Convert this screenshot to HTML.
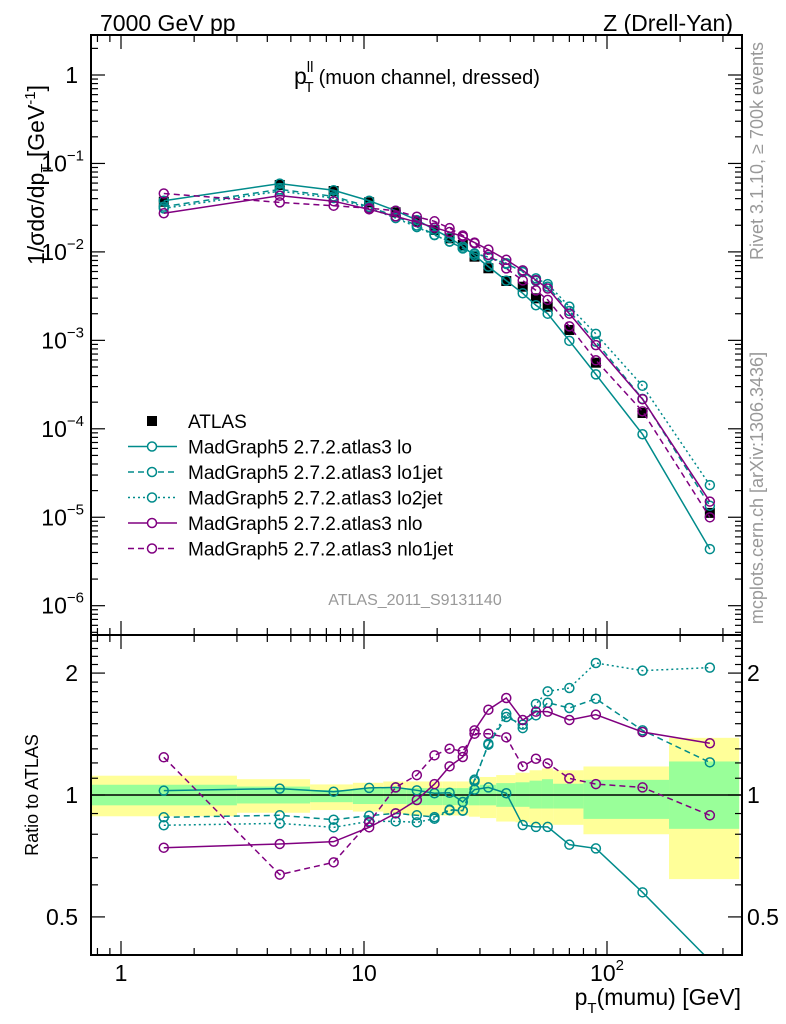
<!DOCTYPE html>
<html><head><meta charset="utf-8">
<style>
html,body{margin:0;padding:0;background:#fff;}
svg{display:block;font-family:"Liberation Sans",sans-serif;}
</style></head>
<body>
<svg id="chart" width="786" height="1024" viewBox="0 0 786 1024">
<defs>
<clipPath id="clipMain"><rect x="91" y="35" width="651" height="600"/></clipPath>
<clipPath id="clipRatio"><rect x="91" y="635" width="651" height="320"/></clipPath>
</defs>
<g id="bands" clip-path="url(#clipRatio)"></g>
<g id="ratioLines" clip-path="url(#clipRatio)"></g>
<g id="mainLines" clip-path="url(#clipMain)"></g>
<g id="axes"></g>
<text x="100" y="31" font-size="23">7000 GeV pp</text>
<text x="733" y="31" font-size="23" text-anchor="end">Z (Drell-Yan)</text>
<text x="294" y="84" font-size="23">p<tspan font-size="15" dy="-12">ll</tspan><tspan font-size="15" dx="-9" dy="20">T</tspan><tspan font-size="20" dy="-8" dx="5">(muon channel, dressed)</tspan></text>
<text x="415" y="605" font-size="16" fill="#999" text-anchor="middle">ATLAS_2011_S9131140</text>
<text transform="translate(763,151) rotate(-90)" font-size="18" fill="#999" text-anchor="middle">Rivet 3.1.10, ≥ 700k events</text>
<text transform="translate(763,488) rotate(-90)" font-size="18" fill="#999" text-anchor="middle">mcplots.cern.ch [arXiv:1306.3436]</text>
<text transform="translate(44,175) rotate(-90)" font-size="23" text-anchor="middle">1/σdσ/dp<tspan font-size="15" dy="7">T</tspan><tspan dy="-7"> [GeV</tspan><tspan font-size="15" dy="-9">-1</tspan><tspan dy="9">]</tspan></text>
<text transform="translate(38,795) rotate(-90)" font-size="18" text-anchor="middle">Ratio to ATLAS</text>
<text x="741" y="1005" font-size="23" text-anchor="end">p<tspan font-size="15" dy="8">T</tspan><tspan dy="-8">(mumu) [GeV]</tspan></text>
<g id="legend"></g>
</svg>
<script>
const xCenters=[1.5,4.5,7.5,10.5,13.5,16.5,19.5,22.5,25.5,28.5,32.5,38.5,45,51,57,70,90,140,265];
const binEdges=[0.5,3,6,9,12,15,18,21,24,27,30,35,42,48,54,60,80,100,180,350];
const atlas=[0.0369,0.0571,0.0488,0.0364,0.028,0.0223,0.0177,0.01425,0.01197,0.00883,0.00653,0.00469,0.00404,0.00299,0.0024,0.00131,0.000559,0.000151,0.0000112];
const ratioLo=[1.025,1.037,1.019,1.041,1.044,1.027,1.01,1.013,0.961,1.031,1.044,1.01,0.843,0.834,0.834,0.754,0.738,0.575,0.39];
const ratioLo1jet=[0.881,0.891,0.869,0.889,0.901,0.891,0.882,0.92,0.915,1.091,1.331,1.558,1.492,1.573,1.69,1.64,1.729,1.444,1.204];
const ratioLo2jet=[0.842,0.851,0.832,0.861,0.861,0.856,0.874,0.917,0.915,1.081,1.339,1.588,1.463,1.678,1.803,1.837,2.118,2.028,2.063];
const ratioNlo=[0.741,0.757,0.767,0.832,0.901,0.972,1.064,1.177,1.241,1.444,1.624,1.736,1.532,1.606,1.606,1.532,1.579,1.431,1.342];
const ratioNlo1jet=[1.239,0.636,0.682,0.856,1.044,1.12,1.253,1.301,1.282,1.417,1.417,1.388,1.177,1.229,1.197,1.099,1.064,1.044,0.891];
const totUp=[1.116,1.094,1.062,1.072,1.08,1.08,1.08,1.08,1.08,1.094,1.108,1.12,1.135,1.151,1.163,1.151,1.176,1.176,1.384];
const totDn=[0.886,0.904,0.918,0.91,0.9,0.89,0.89,0.89,0.89,0.884,0.877,0.86,0.856,0.844,0.844,0.844,0.8,0.8,0.62];
const statUp=[1.06,1.049,1.029,1.037,1.04,1.04,1.04,1.04,1.04,1.049,1.06,1.07,1.075,1.085,1.094,1.066,1.09,1.09,1.21];
const statDn=[0.943,0.953,0.96,0.95,0.95,0.944,0.944,0.944,0.944,0.943,0.943,0.935,0.935,0.926,0.926,0.926,0.873,0.873,0.825];
const xTickLabels=["1","10","10"];
const mainYTicks=[0,-1,-2,-3,-4,-5,-6];
const ratioYTicks=[0.5,1,2];
const legendLabels=["ATLAS","MadGraph5 2.7.2.atlas3 lo","MadGraph5 2.7.2.atlas3 lo1jet","MadGraph5 2.7.2.atlas3 lo2jet","MadGraph5 2.7.2.atlas3 nlo","MadGraph5 2.7.2.atlas3 nlo1jet"];

const NS="http://www.w3.org/2000/svg";
const L=91,R=742,MT=35,MB=635,RB=955;
function X(v){return 121+243*Math.log10(v);}
function Y(v){return 75-88.45*Math.log10(v);}
function RY(r){return 795-405*Math.log10(r);}
function mk(tag,attrs,parent){const e=document.createElementNS(NS,tag);for(const k in attrs)e.setAttribute(k,attrs[k]);parent.appendChild(e);return e;}
const TEAL="#008b8b",PURP="#800080";
const series=[
 {r:ratioLo,c:TEAL,d:"",n:"lo"},
 {r:ratioLo1jet,c:TEAL,d:"6,4",n:"lo1jet"},
 {r:ratioLo2jet,c:TEAL,d:"2,3",n:"lo2jet"},
 {r:ratioNlo,c:PURP,d:"",n:"nlo"},
 {r:ratioNlo1jet,c:PURP,d:"6,4",n:"nlo1jet"}];

const bands=document.getElementById('bands');
for(let i=0;i<xCenters.length;i++){
 const x0=X(binEdges[i]),x1=X(binEdges[i+1]);
 const y=mk('rect',{x:x0,y:RY(totUp[i]),width:x1-x0,height:RY(totDn[i])-RY(totUp[i]),fill:"#ffff99"},bands);
 
 
 const g=mk('rect',{x:x0,y:RY(statUp[i]),width:x1-x0,height:RY(statDn[i])-RY(statUp[i]),fill:"#99ff99"},bands);
 
 
}
mk('line',{x1:L,x2:R,y1:RY(1),y2:RY(1),stroke:"#000","stroke-width":1.5},bands);

const rl=document.getElementById('ratioLines');
series.forEach(s=>{
 const pts=xCenters.map((x,i)=>X(x)+","+RY(s.r[i])).join(" ");
 const pl=mk('polyline',{points:pts,fill:"none",stroke:s.c,"stroke-width":1.5,"stroke-dasharray":s.d},rl);
 
 
 xCenters.forEach((x,i)=>{
  const c=mk('circle',{cx:X(x),cy:RY(s.r[i]),r:4.5,fill:"none",stroke:s.c,"stroke-width":1.5},rl);
  
  
 });
});

const ml=document.getElementById('mainLines');
xCenters.forEach((x,i)=>{
 const sq=mk('rect',{x:X(x)-5,y:Y(atlas[i])-5,width:10,height:10,fill:"#000"},ml);
 
 
});
series.forEach(s=>{
 const pts=xCenters.map((x,i)=>X(x)+","+Y(atlas[i]*s.r[i])).join(" ");
 const pl=mk('polyline',{points:pts,fill:"none",stroke:s.c,"stroke-width":1.5,"stroke-dasharray":s.d},ml);
 
 
 xCenters.forEach((x,i)=>{
  const c=mk('circle',{cx:X(x),cy:Y(atlas[i]*s.r[i]),r:4.5,fill:"none",stroke:s.c,"stroke-width":1.5},ml);
  
  
 });
});

const ax=document.getElementById('axes');
mk('rect',{x:L,y:MT,width:R-L,height:MB-MT,fill:"none",stroke:"#000","stroke-width":2},ax);
mk('rect',{x:L,y:MB,width:R-L,height:RB-MB,fill:"none",stroke:"#000","stroke-width":2},ax);
function line(x1,y1,x2,y2){mk('line',{x1:x1,y1:y1,x2:x2,y2:y2,stroke:"#000","stroke-width":1.2},ax);}
for(let d=-1;d<=2;d++){for(let m=1;m<=9;m++){const v=m*Math.pow(10,d);const x=X(v);if(x<L||x>R)continue;const len=m==1?14:7;
 [MT,MB].forEach(yt=>line(x,yt,x,yt+len));[MB,RB].forEach(yb=>line(x,yb,x,yb-len));}}
[1,10,100].forEach((v,i)=>{const t=mk('text',{x:X(v),y:981,"font-size":23,"text-anchor":"middle"},ax);t.textContent=xTickLabels[i];
 if(i==2){const s=mk('tspan',{"font-size":15,dy:-11},t);s.textContent="2";}
 
 });
for(let d=-7;d<=0;d++){for(let m=1;m<=9;m++){const v=m*Math.pow(10,d);const y=Y(v);if(y<MT||y>MB)continue;const len=m==1?14:7;line(L,y,L+len,y);line(R,y,R-len,y);}}
mainYTicks.forEach(p=>{const t=mk('text',{x:p==0?78:84,y:Y(Math.pow(10,p))+8,"font-size":23,"text-anchor":"end"},ax);
 if(p==0){t.textContent="1";}else{t.textContent="10";const s=mk('tspan',{"font-size":15,dy:-11},t);s.textContent="−"+(-p);}
 
 });
for(let r=0.3;r<=2.5;r+=0.1){const y=RY(r);if(y<MB||y>RB)continue;const major=[0.5,1,2].some(q=>Math.abs(q-r)<0.01);const len=major?14:7;line(L,y,L+len,y);line(R,y,R-len,y);}
ratioYTicks.forEach(r=>{[78,747].forEach((xx,j)=>{const t=mk('text',{x:xx,y:RY(r)+8,"font-size":23,"text-anchor":j==0?"end":"start"},ax);t.textContent=String(r);
 
 });});

const lg=document.getElementById('legend');
legendLabels.forEach((lab,i)=>{
 const y=421+25.5*i;
 if(i==0){mk('rect',{x:147,y:y-5,width:10,height:10,fill:"#000"},lg);}
 else{const s=series[i-1];mk('line',{x1:128,x2:177,y1:y,y2:y,stroke:s.c,"stroke-width":1.5,"stroke-dasharray":s.d},lg);
  mk('circle',{cx:152,cy:y,r:4.5,fill:"#fff",stroke:s.c,"stroke-width":1.5},lg);}
 const t=mk('text',{x:188,y:y+7,"font-size":19},lg);t.textContent=lab;
 
 
});
</script>
</body></html>
